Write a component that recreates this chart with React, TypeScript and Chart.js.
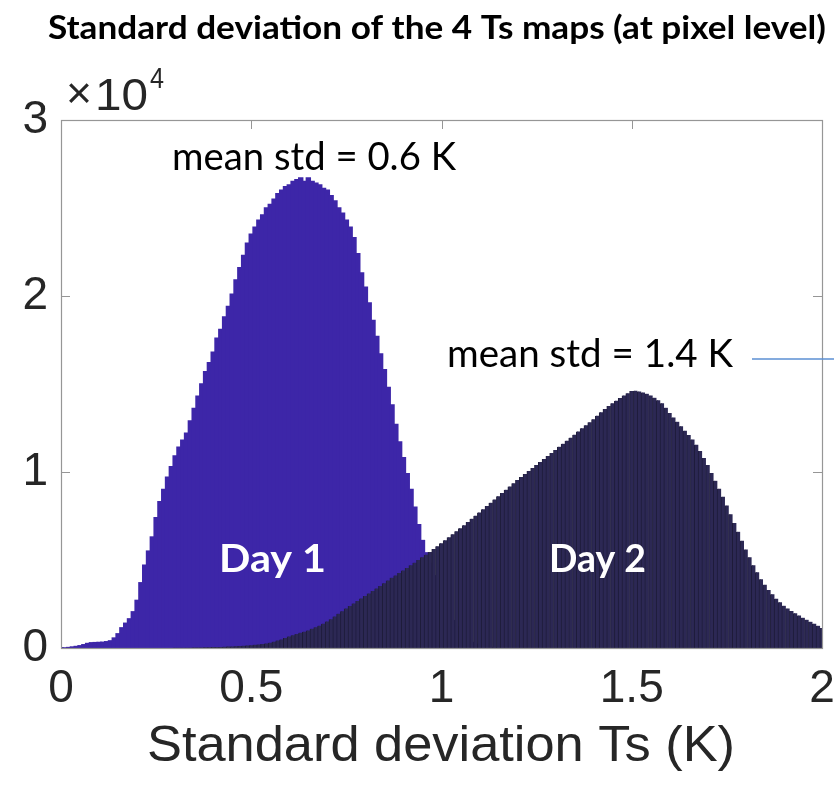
import { useEffect, useRef } from 'react';
import { Chart, registerables } from 'chart.js';

Chart.register(...registerables);

// Histogram bins (K) and pixel counts per bin
const BIN_WIDTH = 0.01;
const DAY1_START = 0.0;
const day1Counts = [
  0, 0, 20, 50, 80, 120, 180, 250, 290, 300,
  310, 320, 350, 400, 560, 800, 1140, 1400, 1650, 2050,
  2700, 3700, 4700, 5500, 6300, 7400, 8300, 9000, 9700, 10300,
  10900, 11400, 11800, 12200, 12900, 13600, 14300, 15000, 15700, 16200,
  16800, 17600, 18100, 18800, 19400, 20100, 20900, 21600, 22300, 23000,
  23500, 23900, 24300, 24600, 25000, 25200, 25500, 25800, 26000, 26200,
  26300, 26500, 26600, 26700, 26500, 26700, 26500, 26400, 26300, 26100,
  26000, 25700, 25400, 25000, 24700, 24300, 23900, 23300, 22400, 21300,
  20500, 19600, 18600, 17700, 16700, 15800, 14800, 13800, 12700, 11700,
  10800, 9900, 9000, 8000, 7000, 6100, 5400, 4800, 4100, 3500,
  2900, 2400, 1950, 1550, 1200, 900, 650, 450, 300, 200,
  120, 70, 40, 20, 10, 0,
];

const DAY2_START = 0.3;
const day2Counts = [
  10, 12, 15, 18, 20, 25, 30, 35, 40, 45,
  50, 55, 60, 70, 80, 90, 100, 110, 125, 140,
  160, 180, 200, 225, 260, 300, 360, 420, 490, 570,
  650, 720, 790, 860, 930, 1000, 1090, 1180, 1270, 1380,
  1500, 1640, 1790, 1940, 2090, 2240, 2380, 2530, 2670, 2810,
  2950, 3100, 3240, 3380, 3520, 3680, 3830, 3990, 4120, 4260,
  4400, 4550, 4700, 4850, 5000, 5150, 5300, 5450, 5620, 5780,
  5950, 6120, 6290, 6460, 6630, 6800, 6980, 7160, 7340, 7520,
  7700, 7880, 8070, 8250, 8440, 8620, 8810, 8990, 9180, 9360,
  9550, 9720, 9890, 10060, 10230, 10400, 10570, 10740, 10910, 11080,
  11250, 11430, 11600, 11780, 11950, 12120, 12300, 12480, 12650, 12830,
  13000, 13200, 13400, 13580, 13750, 13900, 14050, 14200, 14350, 14480,
  14600, 14620, 14580, 14520, 14440, 14340, 14220, 14080, 13900, 13650,
  13350, 13100, 12850, 12600, 12350, 12100, 11850, 11550, 11200, 10800,
  10400, 9950, 9500, 9050, 8600, 8100, 7600, 7100, 6600, 6100,
  5600, 5150, 4700, 4300, 3900, 3600, 3300, 3050, 2800, 2600,
  2400, 2250, 2100, 1980, 1850, 1720, 1600, 1490, 1380, 1260,
  1140,
];

const xTickValues = [0, 0.5, 1, 1.5, 2];
const yTickValues = [0, 10000, 20000, 30000];
const Y_EXPONENT = 4;

const titleText = 'Standard deviation of the 4 Ts maps (at pixel level)';
const xAxisTitle = 'Standard deviation Ts (K)';
const day1Name = 'Day 1';
const day2Name = 'Day 2';
const day1Note = 'mean std = 0.6 K';
const day2Note = 'mean std = 1.4 K';

const DAY1_COLOR = 'rgb(61,38,168)';
const DAY2_COLOR = 'rgb(44,40,84)';
const DAY2_EDGE = 'rgb(30,28,58)';
const AXIS_GRAY = 'rgb(150,150,150)';
const TEXT_DARK = 'rgb(38,38,38)';
const MATLAB_FONT = "'Liberation Sans', Arial, sans-serif";
const NOTE_FONT = "Lato, 'Open Sans', sans-serif";

const toPoints = (start: number, counts: number[]) =>
  counts.map((c, i) => ({ x: +(start + i * BIN_WIDTH).toFixed(2), y: c }));

function drawFitted(
  ctx: CanvasRenderingContext2D,
  text: string,
  left: number,
  right: number,
  baseline: number,
  font: string,
  color: string
) {
  ctx.save();
  ctx.font = font;
  ctx.fillStyle = color;
  ctx.textAlign = 'left';
  ctx.textBaseline = 'alphabetic';
  const w = ctx.measureText(text).width;
  ctx.translate(left, baseline);
  ctx.scale((right - left) / w, 1);
  ctx.fillText(text, 0, 0);
  ctx.restore();
}

const decorPlugin = {
  id: 'decor',
  beforeDatasetsDraw(chart: any) {
    const { ctx, chartArea: a, scales } = chart;
    const tick = 9;
    ctx.save();
    ctx.strokeStyle = AXIS_GRAY;
    ctx.lineWidth = 1;
    ctx.beginPath();
    for (const v of xTickValues) {
      const px = Math.round(scales.x.getPixelForValue(v)) + 0.5;
      ctx.moveTo(px, a.bottom);
      ctx.lineTo(px, a.bottom - tick);
      ctx.moveTo(px, a.top);
      ctx.lineTo(px, a.top + tick);
    }
    for (const v of yTickValues) {
      const py = Math.round(scales.y.getPixelForValue(v)) + 0.5;
      ctx.moveTo(a.left, py);
      ctx.lineTo(a.left + tick, py);
      ctx.moveTo(a.right, py);
      ctx.lineTo(a.right - tick, py);
    }
    ctx.stroke();
    ctx.restore();
  },
  afterDatasetsDraw(chart: any) {
    const { ctx, chartArea: a } = chart;
    ctx.save();
    ctx.strokeStyle = AXIS_GRAY;
    ctx.lineWidth = 1.2;
    ctx.strokeRect(Math.round(a.left) + 0.5, Math.round(a.top) + 0.5, Math.round(a.right - a.left), Math.round(a.bottom - a.top));
    ctx.restore();

    // In-plot labels
    drawFitted(ctx, day1Name, 219, 326, 572, `bold 38px ${NOTE_FONT}`, '#ffffff');
    drawFitted(ctx, day2Name, 549, 646, 572, `bold 38px ${NOTE_FONT}`, '#ffffff');
    drawFitted(ctx, day1Note, 172, 456, 170, `38px ${NOTE_FONT}`, '#000000');
    drawFitted(ctx, day2Note, 447, 733, 367, `38px ${NOTE_FONT}`, '#000000');

    // Leader line from the Day 2 note
    ctx.save();
    ctx.strokeStyle = 'rgb(91,143,211)';
    ctx.lineWidth = 1.5;
    ctx.beginPath();
    ctx.moveTo(752, 359);
    ctx.lineTo(834, 359);
    ctx.stroke();
    ctx.restore();
  },
  afterDraw(chart: any) {
    const { ctx } = chart;
    // Title
    drawFitted(ctx, titleText, 48, 826, 39, `bold 32px ${NOTE_FONT}`, '#000000');
    // Exponent of the y axis
    drawFitted(ctx, '\u00d7', 66, 92, 108, `44px ${MATLAB_FONT}`, TEXT_DARK);
    drawFitted(ctx, '10', 95, 148, 110, `44px ${MATLAB_FONT}`, TEXT_DARK);
    drawFitted(ctx, String(Y_EXPONENT), 150, 164, 88, `30px ${MATLAB_FONT}`, TEXT_DARK);
    // x axis title
    drawFitted(ctx, xAxisTitle, 147, 735, 761, `50px ${MATLAB_FONT}`, TEXT_DARK);
  },
};

export default function App() {
  const canvasRef = useRef<HTMLCanvasElement | null>(null);

  useEffect(() => {
    if (!canvasRef.current) return;
    const chart = new Chart(canvasRef.current, {
      type: 'bar',
      data: {
        datasets: [
          {
            label: day2Name,
            data: toPoints(DAY2_START, day2Counts),
            backgroundColor: DAY2_COLOR,
            borderColor: DAY2_EDGE,
            borderWidth: { left: 1, right: 0, top: 0, bottom: 0 },
            borderSkipped: false,
            inflateAmount: 0.6,
            grouped: false,
            order: 0,
            barPercentage: 1,
            categoryPercentage: 1,
          },
          {
            label: day1Name,
            data: toPoints(DAY1_START, day1Counts),
            backgroundColor: DAY1_COLOR,
            borderWidth: 0,
            inflateAmount: 0.8,
            grouped: false,
            order: 1,
            barPercentage: 1,
            categoryPercentage: 1,
          },
        ] as any,
      },
      options: {
        animation: false,
        responsive: true,
        maintainAspectRatio: false,
        layout: { padding: { top: 120, right: 12, left: 0, bottom: 0 } },
        plugins: {
          legend: { display: false },
          tooltip: { enabled: false },
          title: { display: false },
        },
        scales: {
          x: {
            type: 'linear',
            min: 0,
            max: 2,
            offset: false,
            grid: { display: false, drawTicks: false },
            border: { display: false },
            afterFit: (s: any) => {
              s.height = 138;
              s.paddingLeft = 0;
              s.paddingRight = 0;
            },
            afterBuildTicks: (s: any) => {
              s.ticks = xTickValues.map((v) => ({ value: v }));
            },
            ticks: {
              autoSkip: false,
              maxRotation: 0,
              padding: 14,
              color: TEXT_DARK,
              font: { family: MATLAB_FONT, size: 46 },
              callback: (v: any) => String(v),
            },
          },
          y: {
            type: 'linear',
            min: 0,
            max: 30000,
            grid: { display: false, drawTicks: false },
            border: { display: false },
            afterFit: (s: any) => {
              s.width = 61;
              s.paddingTop = 0;
              s.paddingBottom = 0;
            },
            afterBuildTicks: (s: any) => {
              s.ticks = yTickValues.map((v) => ({ value: v }));
            },
            ticks: {
              padding: 13,
              color: TEXT_DARK,
              font: { family: MATLAB_FONT, size: 46 },
              callback: (v: any) => String(Number(v) / Math.pow(10, Y_EXPONENT)),
            },
          },
        },
      } as any,
      plugins: [decorPlugin],
    });
    return () => chart.destroy();
  }, []);

  return (
    <div style={{ position: 'absolute', left: 0, top: 0, width: 834, height: 786, background: '#ffffff' }}>
      <canvas ref={canvasRef} />
    </div>
  );
}
